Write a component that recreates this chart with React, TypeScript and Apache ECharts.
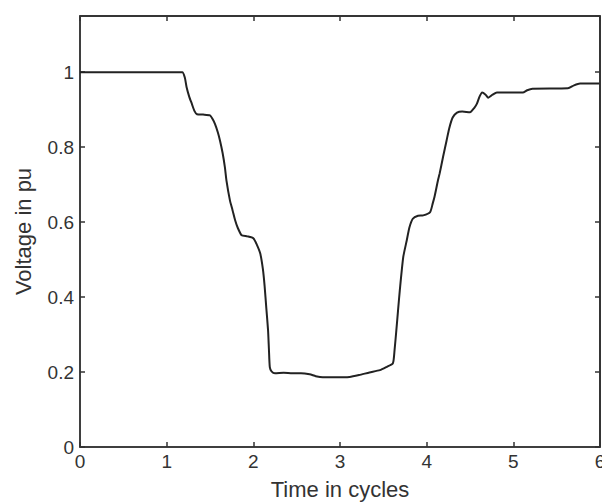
import React, { useEffect, useRef } from "react";
import * as echarts from "echarts";

const timeCycles: number[] = [
  0, 1.18, 1.21, 1.23, 1.26, 1.29, 1.32, 1.35, 1.42, 1.5, 1.53, 1.557, 1.59, 1.615, 1.645, 1.672,
  1.69, 1.73, 1.76, 1.79, 1.82, 1.865, 1.93, 2.0, 2.04, 2.08, 2.11, 2.13, 2.15, 2.17, 2.18, 2.19,
  2.21, 2.25, 2.35, 2.45, 2.55, 2.65, 2.72, 2.8, 2.95, 3.11, 3.22, 3.34, 3.46, 3.54, 3.61, 3.63,
  3.65, 3.67, 3.69, 3.73, 3.77, 3.8, 3.84, 3.9, 3.96, 4.04, 4.07, 4.09, 4.13, 4.15, 4.19, 4.23,
  4.26, 4.3, 4.35, 4.41, 4.5, 4.55, 4.58, 4.61, 4.64, 4.68, 4.71, 4.76, 4.81, 5.11, 5.16, 5.22,
  5.63, 5.7, 5.77, 6.0,
];

const voltagePu: number[] = [
  1.0, 1.0, 0.985, 0.96, 0.935, 0.916, 0.897, 0.888, 0.887, 0.885, 0.875, 0.862, 0.84, 0.818, 0.785, 0.746,
  0.711, 0.658, 0.632, 0.605, 0.585, 0.565, 0.562, 0.557, 0.54, 0.516, 0.475, 0.43, 0.37, 0.311, 0.26, 0.213,
  0.202, 0.197, 0.198, 0.197, 0.197, 0.194, 0.189, 0.186, 0.186, 0.187, 0.192, 0.199, 0.205, 0.214, 0.223, 0.26,
  0.311, 0.365, 0.418, 0.507, 0.551, 0.585, 0.609, 0.617, 0.618, 0.627, 0.65, 0.667, 0.711, 0.73, 0.775, 0.818,
  0.85, 0.879, 0.892, 0.895, 0.893, 0.905, 0.916, 0.935, 0.946, 0.94, 0.932, 0.94, 0.946, 0.946, 0.952, 0.956,
  0.957, 0.965, 0.97, 0.97,
];

const xLabel = "Time in cycles";
const yLabel = "Voltage in pu";
const xMax = 6;
const yMax = 1.15;

export default function App() {
  const ref = useRef<HTMLDivElement>(null);
  useEffect(() => {
    if (!ref.current) return;
    const chart = echarts.init(ref.current, undefined, { renderer: "svg" });
    const font = "Liberation Sans, Arial, sans-serif";
    const data = timeCycles.map((t, i) => [t, voltagePu[i]]);
    const line = () => ({ show: true, onZero: false, lineStyle: { color: "#333", width: 1.5 } });
    const tick = () => ({ show: true, inside: true, length: 5, lineStyle: { color: "#333", width: 1.5 } });
    chart.setOption({
      animation: false,
      backgroundColor: "#fff",
      grid: {
        left: 80,
        right: 2,
        top: 16,
        bottom: 56,
        outerBoundsMode: "none",
        show: true,
        borderColor: "#333",
        borderWidth: 1.5,
      },
      xAxis: [
        {
          type: "value",
          min: 0,
          max: xMax,
          interval: 1,
          axisLine: line(),
          axisTick: tick(),
          splitLine: { show: false },
          axisLabel: { fontSize: 19, color: "#333", margin: 5, fontFamily: font },
          name: xLabel,
          nameLocation: "middle",
          nameGap: 31,
          nameTextStyle: { fontSize: 22, color: "#333", fontFamily: font },
        },
        {
          type: "value",
          min: 0,
          max: xMax,
          interval: 1,
          position: "top",
          axisLine: line(),
          axisTick: tick(),
          splitLine: { show: false },
          axisLabel: { show: false },
        },
      ],
      yAxis: [
        {
          type: "value",
          min: 0,
          max: yMax,
          interval: 0.2,
          axisLine: line(),
          axisTick: tick(),
          splitLine: { show: false },
          axisLabel: { fontSize: 19, color: "#333", margin: 6, fontFamily: font, showMaxLabel: false },
          name: yLabel,
          nameLocation: "middle",
          nameGap: 46,
          nameTextStyle: { fontSize: 22, color: "#333", fontFamily: font },
        },
        {
          type: "value",
          min: 0,
          max: yMax,
          interval: 0.2,
          position: "right",
          axisLine: line(),
          axisTick: tick(),
          splitLine: { show: false },
          axisLabel: { show: false },
        },
      ],
      series: [
        {
          type: "line",
          data,
          showSymbol: false,
          smooth: 0.2,
          clip: false,
          lineStyle: { color: "#222", width: 2 },
          markLine: {
            silent: true,
            symbol: ["none", "none"],
            label: { show: false },
            emphasis: { disabled: true },
            lineStyle: { color: "#333", width: 1.5, type: "solid" },
            data: [{ yAxis: yMax }, { xAxis: xMax }],
          },
        },
      ],
    });
    return () => chart.dispose();
  }, []);
  return <div ref={ref} style={{ width: 602, height: 503, position: "absolute", left: 0, top: 0 }} />;
}
